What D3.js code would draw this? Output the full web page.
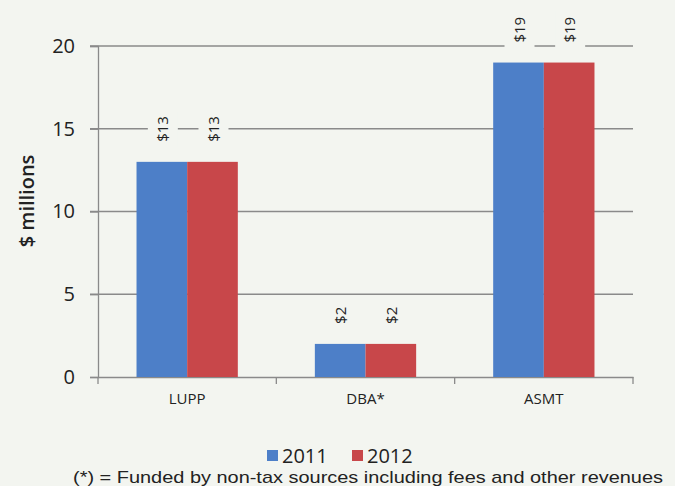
<!DOCTYPE html>
<html>
<head>
<meta charset="utf-8">
<script src="https://cdn.jsdelivr.net/npm/d3@7"></script>
<style>
  html, body { margin: 0; padding: 0; background: #f3f5f0; }
  svg { display: block; }
</style>
</head>
<body>
<svg id="chart" width="675" height="486"></svg>
<script>
// Budget by program, $ millions
const categories = ["LUPP", "DBA*", "ASMT"];
const seriesNames = ["2011", "2012"];
const values2011 = [13, 2, 19];
const values2012 = [13, 2, 19];
const yTicks = [0, 5, 10, 15, 20];
const footnote = "(*) = Funded by non-tax sources including fees and other revenues";

const colors = { "2011": "#4d7fc8", "2012": "#c8474a" };
const bg = "#f3f5f0";
const W = 675, H = 486;
const margin = { left: 98, right: 42, top: 46, bottom: 109 };

const svg = d3.select("#chart");
svg.append("rect").attr("width", W).attr("height", H).attr("fill", bg);

const x = d3.scaleBand().domain(categories).range([margin.left, W - margin.right]).padding(0);
const bw = x.bandwidth();
const xs = d3.scaleBand().domain(seriesNames).range([bw * 0.216, bw * 0.784]).padding(0);
const y = d3.scaleLinear().domain([0, 20]).range([H - margin.bottom, margin.top]);

const font = "'Open Sans', 'DejaVu Sans', sans-serif";

// horizontal gridlines (skip zero, drawn as the axis)
svg.append("g").selectAll("line").data(yTicks.filter(d => d > 0)).join("line")
  .attr("x1", margin.left - 8).attr("x2", W - margin.right)
  .attr("y1", d => y(d)).attr("y2", d => y(d))
  .attr("stroke", "#8a8a8a").attr("stroke-width", 1.3);

// y axis
const yAxis = svg.append("g").attr("transform", `translate(${margin.left},0)`)
  .call(d3.axisLeft(y).tickValues(yTicks).tickSize(8).tickPadding(15));
yAxis.select(".domain").attr("stroke", "#8a8a8a").attr("stroke-width", 1.3);
yAxis.selectAll(".tick line").attr("stroke", "#8a8a8a").attr("stroke-width", 1.3);
yAxis.selectAll(".tick text").attr("font-family", font).attr("font-size", 20).attr("fill", "#222");

// x axis
const xAxis = svg.append("g").attr("transform", `translate(0,${y(0)})`)
  .call(d3.axisBottom(x).tickSize(0).tickPadding(16));
xAxis.select(".domain").attr("stroke", "#8a8a8a").attr("stroke-width", 1.3);
xAxis.selectAll(".tick text").attr("font-family", font).attr("font-size", 15).attr("fill", "#222");
// category separators
const edges = categories.map(c => x(c)).concat([x(categories[categories.length - 1]) + bw]);
svg.append("g").selectAll("line").data(edges).join("line")
  .attr("x1", d => d).attr("x2", d => d)
  .attr("y1", y(0)).attr("y2", y(0) + 7)
  .attr("stroke", "#8a8a8a").attr("stroke-width", 1.3);

// bars
const rows = categories.map((c, i) => ({ cat: c, vals: [
  { s: "2011", v: values2011[i] }, { s: "2012", v: values2012[i] }] }));
const groups = svg.append("g").selectAll("g").data(rows).join("g")
  .attr("transform", d => `translate(${x(d.cat)},0)`);
groups.selectAll("rect").data(d => d.vals).join("rect")
  .attr("x", d => xs(d.s)).attr("width", xs.bandwidth())
  .attr("y", d => y(d.v)).attr("height", d => y(0) - y(d.v))
  .attr("fill", d => colors[d.s]);

// rotated value labels, each on a small background box
const labels = groups.selectAll("g.lbl").data(d => d.vals).join("g").attr("class", "lbl")
  .attr("transform", d => `translate(${xs(d.s) + xs.bandwidth() / 2 + 1},${y(d.v) - 20}) rotate(-90)`);
labels.each(function (d) {
  const g = d3.select(this);
  const t = g.append("text").text("$" + d.v)
    .attr("x", 0).attr("dy", "0.35em")
    .attr("font-family", font).attr("font-size", 15).attr("fill", "#222");
  const len = t.node().getComputedTextLength();
  g.insert("rect", "text").attr("x", -6).attr("y", -15).attr("width", len + 11).attr("height", 30).attr("fill", bg);
});

// y axis title
svg.append("text").text("$ millions")
  .attr("transform", `translate(34,201) rotate(-90)`)
  .attr("text-anchor", "middle").attr("font-family", font).attr("font-size", 20)
  .attr("font-weight", 600).attr("fill", "#222");

// legend
const legend = svg.append("g").attr("transform", "translate(267,456)");
const lx = [0, 85];
seriesNames.forEach((s, i) => {
  legend.append("rect").attr("x", lx[i]).attr("y", -6).attr("width", 11).attr("height", 11).attr("fill", colors[s]);
  legend.append("text").text(s).attr("x", lx[i] + 15).attr("y", 0).attr("dy", "0.35em")
    .attr("font-family", font).attr("font-size", 20).attr("fill", "#222");
});

// footnote
svg.append("text").text(footnote).attr("x", 368).attr("y", 483)
  .attr("text-anchor", "middle").attr("font-family", "'Liberation Sans', Arial, sans-serif")
  .attr("font-size", 17).attr("textLength", 590).attr("lengthAdjust", "spacingAndGlyphs")
  .attr("fill", "#222");
</script>
</body>
</html>
